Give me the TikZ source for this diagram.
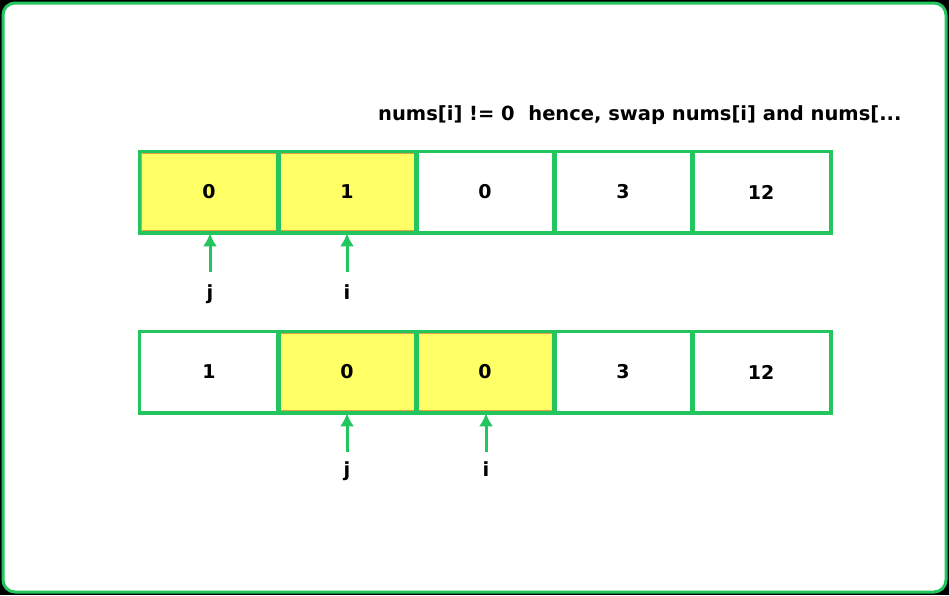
\documentclass[tikz,border=0pt]{standalone}
\usepackage{fontspec}
\setmainfont{DejaVu Sans}
\usetikzlibrary{arrows.meta}
\begin{document}
\begin{tikzpicture}[x=1pt,y=-1pt,
  cell/.style={draw=grn,line width=2.5pt,minimum width=138pt,minimum height=80pt,inner sep=0pt,font=\bfseries\fontsize{19}{22}\selectfont},
  hl/.style={fill=yel},
  ptr/.style={draw=grn,line width=3pt,-{Latex[length=13pt,width=14pt]}},
  lab/.style={font=\bfseries\fontsize{19.5}{22}\selectfont}]
\definecolor{grn}{HTML}{22C55E}
\definecolor{yel}{HTML}{FFFF66}
\definecolor{org}{HTML}{E0A040}
\fill[black] (0,0) rectangle (949,595);
\fill[white,draw=grn,line width=3pt,rounded corners=12pt] (3,3) rectangle (946,592);
\useasboundingbox (0,0) rectangle (949,595);
\node[lab,anchor=east] (title) at (905,115) {nums[i] != 0\ \ hence, swap nums[i] and nums[...};
\foreach \k/\v/\h in {0/0/1,1/1/1,2/0/0,3/3/0,4/12/0}{
  \ifnum\h=1
    \node[cell,hl] (a\k) at (209+138*\k,192) {\v};
    \draw[org,line width=0.8pt] ([shift={(2.5,-2.5)}]a\k.south west) rectangle ([shift={(-2.5,2.5)}]a\k.north east);
  \else
    \node[cell] (a\k) at (209+138*\k,192) {\v};
  \fi}
\foreach \k/\v/\h in {0/1/0,1/0/1,2/0/1,3/3/0,4/12/0}{
  \ifnum\h=1
    \node[cell,hl] (b\k) at (209+138*\k,372) {\v};
    \draw[org,line width=0.8pt] ([shift={(2.5,-2.5)}]b\k.south west) rectangle ([shift={(-2.5,2.5)}]b\k.north east);
  \else
    \node[cell] (b\k) at (209+138*\k,372) {\v};
  \fi}
\foreach \k in {0,...,4}{\draw[grn,line width=2.5pt] (a\k.north west) rectangle (a\k.south east);
  \draw[grn,line width=2.5pt] (b\k.north west) rectangle (b\k.south east);}
\node[lab] (j1) at (210,294) {j};
\node[lab] (i1) at (347,292) {i};
\node[lab] (j2) at (347,471) {j};
\node[lab] (i2) at (486,469) {i};
\coordinate (pj1) at (210,272);
\coordinate (pi1) at (347,272);
\coordinate (pj2) at (347,452);
\coordinate (pi2) at (486,452);
\draw[ptr] (pj1) -- (a0.south -| pj1);
\draw[ptr] (pi1) -- (a1.south -| pi1);
\draw[ptr] (pj2) -- (b1.south -| pj2);
\draw[ptr] (pi2) -- (b2.south -| pi2);
\end{tikzpicture}
\end{document}
